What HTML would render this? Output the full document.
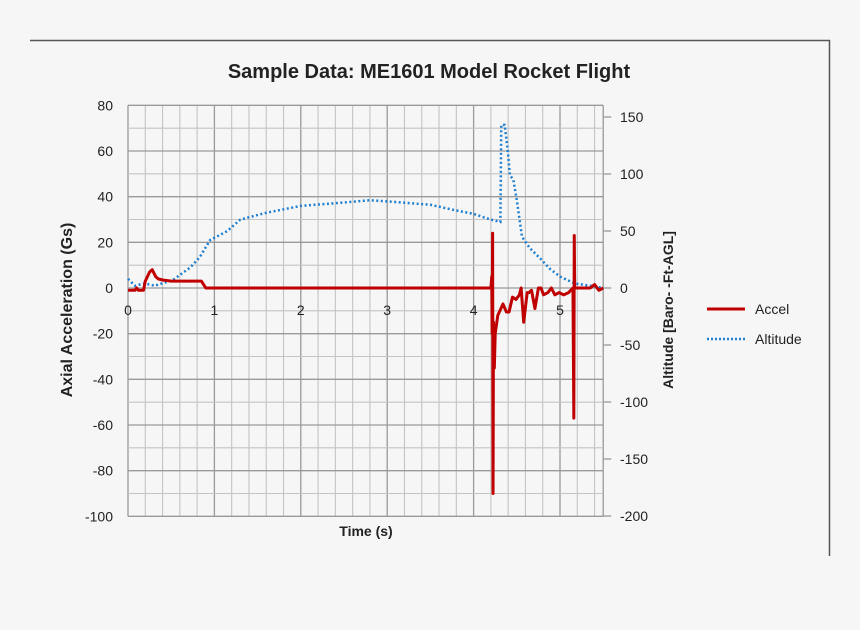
<!DOCTYPE html>
<html><head><meta charset="utf-8"><style>
body{margin:0;background:#f6f6f6;}
svg{display:block;font-family:"Liberation Sans",sans-serif;}
</style></head><body>
<svg id="c" width="860" height="630">
<rect width="860" height="630" fill="#f6f6f6"/>
<line x1="30" y1="40.5" x2="830" y2="40.5" stroke="#555" stroke-width="1.5"/>
<line x1="829.5" y1="40" x2="829.5" y2="556" stroke="#555" stroke-width="1.5"/>
<g id="grid"></g><g id="axes"></g><g id="series"></g>
<text x="429" y="78" text-anchor="middle" font-size="20" font-weight="bold" fill="#222">Sample Data: ME1601 Model Rocket Flight</text>
<text transform="translate(72,310) rotate(-90)" text-anchor="middle" font-size="16" font-weight="bold" fill="#222">Axial Acceleration (Gs)</text>
<text transform="translate(673,310) rotate(-90)" text-anchor="middle" font-size="14" font-weight="bold" fill="#222">Altitude [Baro- -Ft-AGL]</text>
<text x="366" y="536" text-anchor="middle" font-size="14" font-weight="bold" fill="#222">Time (s)</text>
<g>
<line x1="707" y1="309" x2="745" y2="309" stroke="#c00000" stroke-width="3"/>
<text x="755" y="314" font-size="14" fill="#222">Accel</text>
<line x1="707" y1="339" x2="745" y2="339" stroke="#1e7fd0" stroke-width="2.5" stroke-dasharray="2 2"/>
<text x="755" y="344" font-size="14" fill="#222">Altitude</text>
</g>
</svg>
<script>
const accelT=[0,0.08,0.1,0.12,0.18,0.2,0.25,0.28,0.32,0.35,0.4,0.5,0.85,0.9,4.2,4.21,4.215,4.22,4.225,4.23,4.24,4.25,4.28,4.31,4.34,4.38,4.41,4.45,4.49,4.53,4.55,4.58,4.62,4.64,4.67,4.71,4.75,4.78,4.81,4.86,4.9,4.94,4.99,5.04,5.1,5.15,5.16,5.165,5.17,5.175,5.2,5.35,5.4,5.45,5.5];
const accelG=[-1,-1,0,-1,-1,3,7,8,5,4,3.5,3,3,0,0,5,-20,24,-90,-15,-35,-20,-12,-9.5,-7,-10.5,-10.5,-4,-5,-3,0,-15,-2,-2,-1,-9,0,0,-3,-2,0,-3,-2,-3,-2,0,-57,23,0,0,0,0,1.5,-1,0];
const altT=[0,0.08,0.19,0.31,0.52,0.72,0.83,0.95,1.15,1.3,1.6,2.0,2.5,2.8,3.0,3.5,3.8,4.0,4.2,4.31,4.32,4.36,4.4,4.42,4.46,4.5,4.56,4.65,4.77,4.88,5.0,5.17,5.35,5.5];
const altFt=[8,2,4,2,7,18,27,42,50,60,66,72,75,77,76,73,68,65,60,58,143,143,117,99,95,77,45,35,26,17,10,4,2,0];
const xTicks=[0,1,2,3,4,5];
const yTicks=[80,60,40,20,0,-20,-40,-60,-80,-100];
const y2Ticks=[150,100,50,0,-50,-100,-150,-200];
const X0=128,XS=86.4,Y0=288,YS=411/180,Y2S=228/200;
const x=t=>X0+t*XS, y=g=>Y0-g*YS, y2=a=>Y0-a*Y2S;
const NS="http://www.w3.org/2000/svg";
function mk(tag,attrs,parent,txt){const e=document.createElementNS(NS,tag);for(const k in attrs)e.setAttribute(k,attrs[k]);if(txt!==undefined)e.textContent=txt;document.getElementById(parent).appendChild(e);return e;}
const xR=x(5.5);
for(let i=0;i<=27;i++){const t=i*0.2;const e=mk('line',{x1:x(t),x2:x(t),y1:y(80),y2:y(-100),stroke:i%5==0?'#999':'#c4c4c4','stroke-width':i%5==0?1.3:1.1},'grid');

}
mk('line',{x1:xR,x2:xR,y1:y(80),y2:y(-100),stroke:'#999','stroke-width':1.3},'grid');
for(let g=-100;g<=80;g+=10){const e=mk('line',{x1:X0,x2:xR,y1:y(g),y2:y(g),stroke:g%20==0?'#999':'#c4c4c4','stroke-width':g%20==0?1.3:1.1},'grid');

}
yTicks.forEach(v=>{const e=mk('text',{x:113,y:y(v)+5,'text-anchor':'end','font-size':14,fill:'#222'},'axes',String(v));

});
xTicks.forEach(v=>{const e=mk('text',{x:x(v),y:Y0+27,'text-anchor':'middle','font-size':14,fill:'#222'},'axes',String(v));

});
y2Ticks.forEach(v=>{mk('line',{x1:xR,x2:xR+8,y1:y2(v),y2:y2(v),stroke:'#999','stroke-width':1.3},'axes');
const e=mk('text',{x:620,y:y2(v)+5,'font-size':14,fill:'#222'},'axes',String(v));

});
const alt=mk('polyline',{points:altT.map((t,i)=>x(t)+','+y2(altFt[i])).join(' '),fill:'none',stroke:'#1e7fd0','stroke-width':2.5,'stroke-dasharray':'2 2.5'},'series');


const acc=mk('polyline',{points:accelT.map((t,i)=>x(t)+','+y(accelG[i])).join(' '),fill:'none',stroke:'#c00000','stroke-width':3,'stroke-linejoin':'round'},'series');


</script>
</body></html>
